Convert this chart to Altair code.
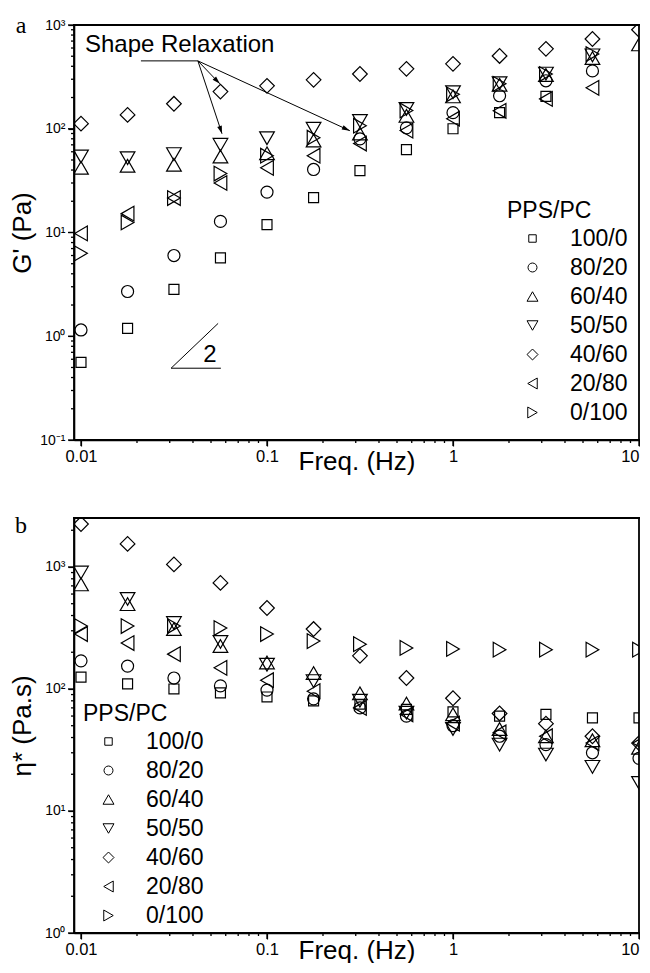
import math
import altair as alt
import pandas as pd

# ---------------- data ----------------
freq = [0.01, 0.0178, 0.0316, 0.0562, 0.1, 0.178, 0.316, 0.562, 1.0, 1.78, 3.16, 5.62, 10.0]
series = ["100/0", "80/20", "60/40", "50/50", "40/60", "20/80", "0/100"]

# panel a: G' (Pa)
g_100_0 = [0.56, 1.19, 2.83, 5.7, 11.9, 21.7, 39.5, 63, 100, 143, 205, None, None]
g_80_20 = [1.15, 2.7, 6.0, 12.8, 24.5, 40.5, 80, 102, 143, 208, 290, 361, None]
g_60_40 = [42, 44, 45, 54, 58, 77, 90, 133, 205, 265, 330, 480, 650]
g_50_50 = [54, 52, 57, 70, 81, 100, 119, 155, 225, 275, 340, 510, None]
g_40_60 = [112, 136, 174, 228, 259, 296, 337, 378, 422, 503, 589, 733, 900]
g_20_80 = [9.8, 15.2, 21.5, 30, 42, 55, 72, 96, 125, 149, 194, 248, None]
g_0_100 = [6.3, 12.5, 21.5, 37, 55, 82, 107, 150, 215, 271, 337, 525, None]

# panel b: eta* (Pa.s)
e_100_0 = [125, 110, 100, 93, 86, 80, 75, 68, 65, 60, 62, 58, 58]
e_80_20 = [170, 154, 123, 106, 98, 83, 70, 60, 50, 41, 35, 30, 27]
e_60_40 = [720, 496, 310, 225, 165, 135, 92, 76, 62, 47, 41, 38, 33]
e_50_50 = [900, 547, 347, 243, 158, 116, 80, 64, 47, 35, 29, 23, 17]
e_40_60 = [2250, 1545, 1050, 740, 461, 310, 187, 123, 84, 63, 52, 41, 36]
e_20_80 = [282, 238, 193, 149, 118, 96, 70, 62, 52, 44, 41, 36, 36]
e_0_100 = [328, 328, 328, 316, 282, 247, 233, 217, 213, 210, 210, 210, 210]

g_values = [g_100_0, g_80_20, g_60_40, g_50_50, g_40_60, g_20_80, g_0_100]
e_values = [e_100_0, e_80_20, e_60_40, e_50_50, e_40_60, e_20_80, e_0_100]

# annotations (data coordinates)
note_text = "Shape Relaxation"
note_pos = (0.0105, 640)
note_line = [(0.021, 451), (0.0425, 451)]
arrow_ends = [(0.0558, 271), (0.0573, 89.5), (0.279, 95.7)]
slope_pts = [(0.0305, 0.492), (0.0546, 1.33), (0.0565, 0.492)]
slope_label = ("2", 0.0494, 0.656)

# ---------------- styling ----------------
W, H = 565, 415
FONT = "Liberation Sans"
SERIF = "Liberation Serif"
X_DOM = [0.00917, 10]
A_DOM = [0.1, 1000]
B_DOM = [1, 2520]
SQUARE = "M-0.68,-0.68L0.68,-0.68L0.68,0.68L-0.68,0.68Z"
CIRCLE = "M0.82,0A0.82,0.82,0,1,1,-0.82,0A0.82,0.82,0,1,1,0.82,0Z"
shapes = [SQUARE, CIRCLE, "triangle-up", "triangle-down", "diamond", "triangle-left", "triangle-right"]
LW = 1.8  # frame line width


def long_df(values):
    rows = []
    for s, vals in zip(series, values):
        for f, v in zip(freq, vals):
            if v is not None:
                rows.append({"f": f, "v": v, "series": s})
    return pd.DataFrame(rows)


def log_ticks(lo, hi, major):
    out = []
    for e in range(-3, 5):
        for k in ([1] if major else range(2, 10)):
            v = round(k * 10 ** e, 8)
            if lo <= v <= hi:
                out.append(v)
    return out


SUP = {-1: "10⁻¹", 0: "10⁰", 1: "10¹", 2: "10²", 3: "10³"}


def y_label_expr():
    expr = "''"
    for e, s in SUP.items():
        expr = f"abs(datum.value - {10.0 ** e}) < {10.0 ** e * 1e-4} ? '{s}' : " + expr
    return expr


X_LABEL_EXPR = ("abs(datum.value-0.01)<1e-6 ? '0.01' : abs(datum.value-0.1)<1e-5 ? '0.1' : "
                "abs(datum.value-1)<1e-4 ? '1' : abs(datum.value-10)<1e-3 ? '10' : ''")

AX = dict(domain=True, ticks=True, domainColor="black", domainWidth=1.6, tickColor="black",
          tickWidth=1.2, tickSize=6, grid=False, labelOverlap=False)


def x_axis(xtitle_y):
    return alt.Axis(values=log_ticks(*X_DOM, True), labelExpr=X_LABEL_EXPR,
                    labelFontSize=16.5, labelFont=FONT, labelColor="black", labelPadding=2,
                    labelFlush=True, title="Freq. (Hz)", titleFont=FONT, titleFontSize=26,
                    titleFontWeight="normal", titleColor="black", titleY=xtitle_y,
                    titleBaseline="middle", orient="bottom", **AX)


def y_axis(dom, title):
    return alt.Axis(values=log_ticks(*dom, True), labelExpr=y_label_expr(),
                    labelFontSize=14, labelFont=FONT, labelColor="black", labelPadding=3,
                    labelFlush=False, title=title, titleFont=FONT, titleFontSize=26,
                    titleFontWeight="normal", titleColor="black", titleX=-52, titleY=H / 2,
                    titleBaseline="middle", titleAngle=-90, orient="left", **AX)


def legend(lx, ly):
    return alt.Legend(title="PPS/PC", orient="none", legendX=lx, legendY=ly, padding=0,
                      titleFont=FONT, titleFontSize=23, titleFontWeight="normal", titleColor="black",
                      titleAnchor="start", titlePadding=4, labelFont=FONT, labelFontSize=23,
                      labelColor="black", rowPadding=5, symbolSize=120, symbolStrokeWidth=1,
                      symbolStrokeColor="black", symbolFillColor="transparent",
                      symbolOffset=14, labelOffset=26)


def panel(values, ydom, ytitle, lx, ly, label, label_y, xtitle_y, extra=()):
    df = long_df(values)
    xs = alt.Scale(type="log", domain=X_DOM, nice=False)
    ys = alt.Scale(type="log", domain=ydom, nice=False)
    pts = alt.Chart(df).mark_point(filled=False, color="black", strokeWidth=1.2, opacity=1,
                                   size=215, clip=True).encode(
        x=alt.X("f:Q", scale=xs, axis=x_axis(xtitle_y)),
        y=alt.Y("v:Q", scale=ys, axis=y_axis(ydom, ytitle)),
        shape=alt.Shape("series:N", scale=alt.Scale(domain=series, range=shapes), legend=legend(lx, ly)),
    )
    layers = [pts]
    # tick marks (filled ticks) through the shared scales: major 6 px, minor 3 px, outward
    for major, ln in ((True, 6), (False, 3)):
        xt = pd.DataFrame({"f": log_ticks(*X_DOM, major)})
        layers.append(alt.Chart(xt).mark_tick(orient="vertical", color="black", thickness=1.3,
                                              size=ln, opacity=1).encode(
            x=alt.X("f:Q", scale=xs), y=alt.value(H + ln / 2)))
        yt = pd.DataFrame({"v": log_ticks(*ydom, major)})
        layers.append(alt.Chart(yt).mark_tick(orient="horizontal", color="black", thickness=1.3,
                                              size=ln, opacity=1).encode(
            y=alt.Y("v:Q", scale=ys), x=alt.value(-ln / 2)))
    # frame: four filled bars
    edges = [(-LW / 2, W + LW / 2, -LW / 2, LW / 2), (-LW / 2, W + LW / 2, H - LW / 2, H + LW / 2),
             (-LW / 2, LW / 2, -LW / 2, H + LW / 2), (W - LW / 2, W + LW / 2, -LW / 2, H + LW / 2)]
    for x1, x2, y1, y2 in edges:
        layers.append(alt.Chart(pd.DataFrame({"k": [0]})).mark_rect(
            color="black", opacity=1, strokeWidth=0
        ).encode(x=alt.value(x1), x2=alt.value(x2), y=alt.value(y1), y2=alt.value(y2)))
    for ch in extra:
        layers.append(ch(xs, ys))
    lab = alt.Chart(pd.DataFrame({"t": [label]})).mark_text(
        font=SERIF, fontSize=24, align="center", baseline="alphabetic", color="black"
    ).encode(x=alt.value(-53), y=alt.value(label_y), text="t:N")
    layers.append(lab)
    return alt.layer(*layers).properties(width=W, height=H)


# pixel scale factors (for arrow-head angles)
px_per_dec_x = W / (math.log10(X_DOM[1]) - math.log10(X_DOM[0]))
px_per_dec_y = H / (math.log10(A_DOM[1]) - math.log10(A_DOM[0]))

start = note_line[1]
seg_rows = [{"f": note_line[0][0], "v": note_line[0][1], "f2": start[0], "v2": start[1]}]
head_rows = []
for ef, ev in arrow_ends:
    seg_rows.append({"f": start[0], "v": start[1], "f2": ef, "v2": ev})
    dx = (math.log10(ef) - math.log10(start[0])) * px_per_dec_x
    dy = -(math.log10(ev) - math.log10(start[1])) * px_per_dec_y
    ang = math.degrees(math.atan2(dx, -dy)) % 360
    head_rows.append({"f": ef, "v": ev, "ang": ang})
seg_rows.append({"f": slope_pts[0][0], "v": slope_pts[0][1], "f2": slope_pts[1][0], "v2": slope_pts[1][1]})
seg_rows.append({"f": slope_pts[0][0], "v": slope_pts[0][1], "f2": slope_pts[2][0], "v2": slope_pts[2][1]})


def segs(xs, ys):
    return alt.Chart(pd.DataFrame(seg_rows)).mark_rule(color="black", strokeWidth=1).encode(
        x=alt.X("f:Q", scale=xs), x2="f2:Q", y=alt.Y("v:Q", scale=ys), y2="v2:Q")


def heads(xs, ys):
    return alt.Chart(pd.DataFrame(head_rows)).mark_point(
        shape="M0,0L0.6,2L-0.6,2Z", filled=True, color="black", size=64, opacity=1
    ).encode(x=alt.X("f:Q", scale=xs), y=alt.Y("v:Q", scale=ys),
             angle=alt.Angle("ang:Q", scale=None))


def note(xs, ys):
    return alt.Chart(pd.DataFrame({"f": [note_pos[0]], "v": [note_pos[1]], "t": [note_text]})).mark_text(
        font=FONT, fontSize=24, align="left", baseline="middle", color="black"
    ).encode(x=alt.X("f:Q", scale=xs), y=alt.Y("v:Q", scale=ys), text="t:N")


def slope_txt(xs, ys):
    return alt.Chart(pd.DataFrame({"f": [slope_label[1]], "v": [slope_label[2]],
                                   "t": [slope_label[0]]})).mark_text(
        font=FONT, fontSize=24, align="center", baseline="middle", color="black"
    ).encode(x=alt.X("f:Q", scale=xs), y=alt.Y("v:Q", scale=ys), text="t:N")


panel_a = panel(g_values, A_DOM, "G' (Pa)", 433, 175, "a", 8, 21,
                extra=(segs, heads, note, slope_txt))
panel_b = panel(e_values, B_DOM, "η* (Pa.s)", 9, 185, "b", 15, 17)

chart = alt.vconcat(panel_a, panel_b, spacing=40).resolve_scale(shape="independent").resolve_legend(
    shape="independent"
).properties(
    padding={"left": 1, "top": 6, "right": 0, "bottom": 0}
).configure_view(stroke="transparent", strokeWidth=0)

chart.save("out.html", embed_options={"renderer": "svg", "actions": False})
